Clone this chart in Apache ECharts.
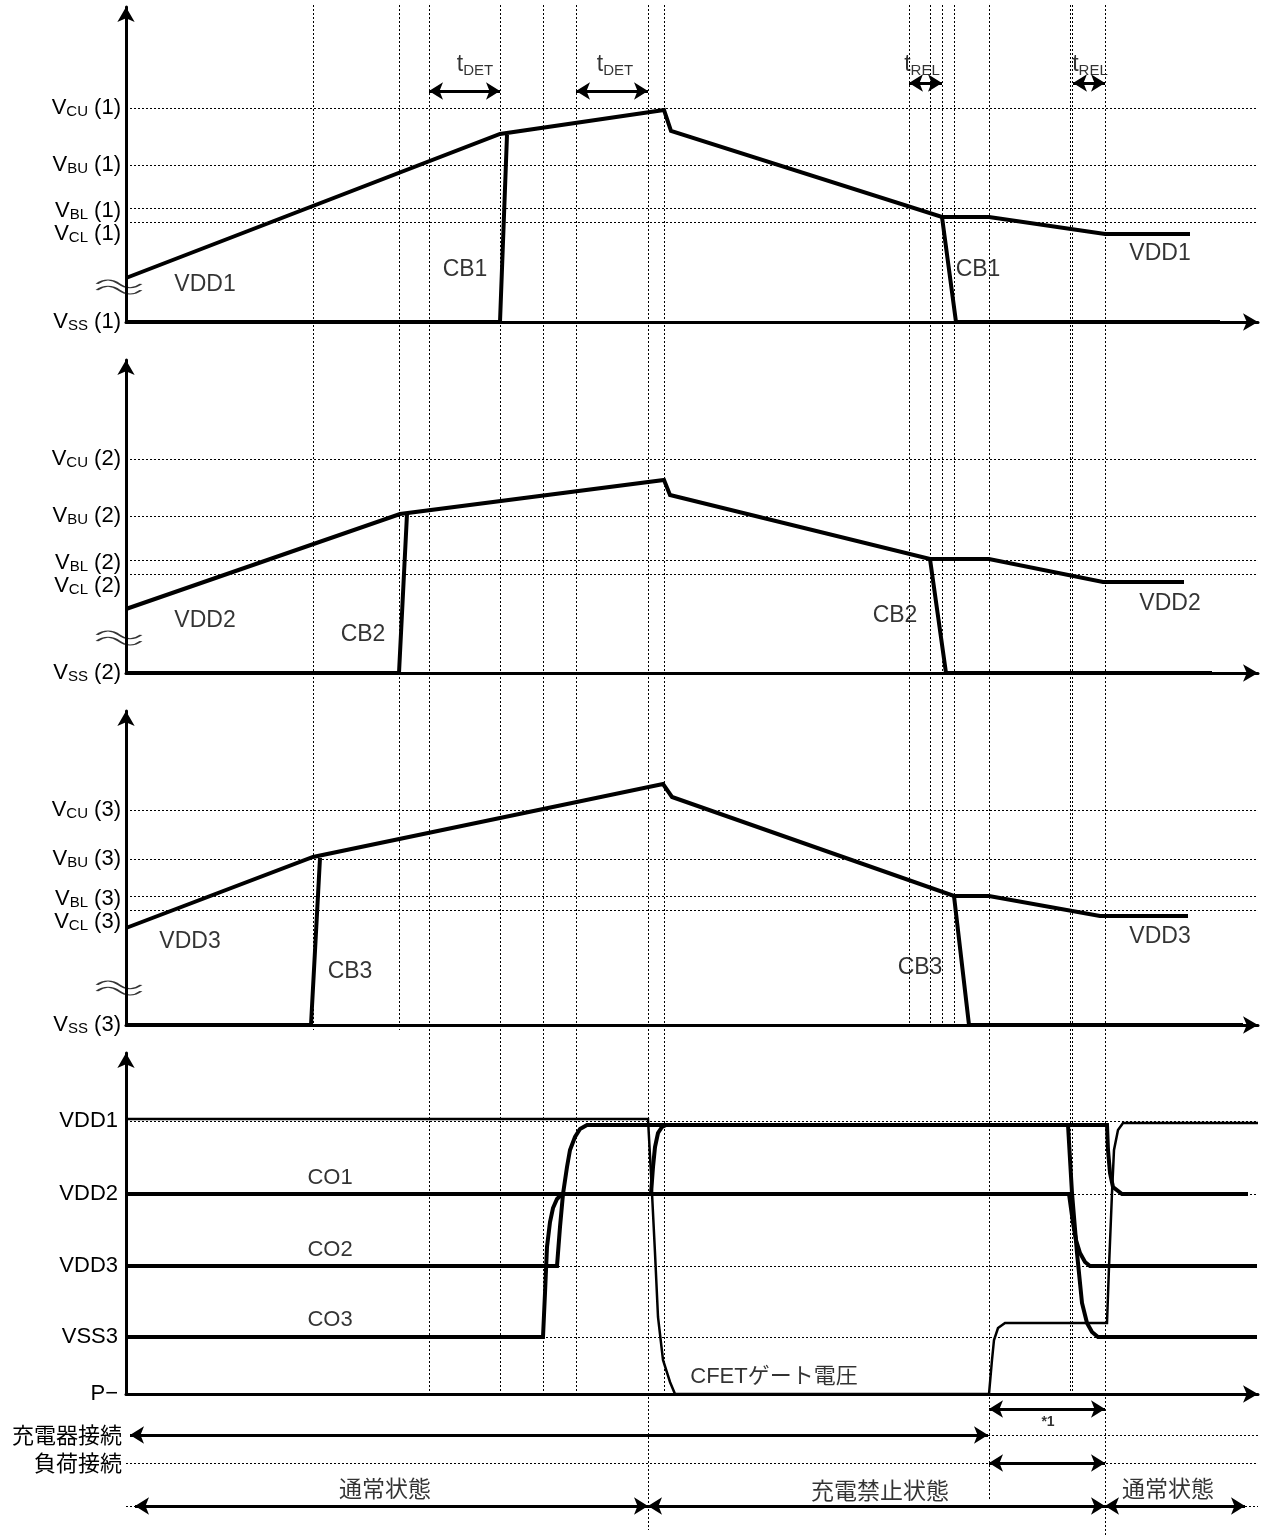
<!DOCTYPE html>
<html>
<head>
<meta charset="utf-8">
<script src="https://cdn.jsdelivr.net/npm/echarts@6/dist/echarts.min.js"></script>
<style>
  html, body { margin: 0; padding: 0; background: #fff; }
  #main { width: 1266px; height: 1535px; }
</style>
</head>
<body>
<div id="main"></div>
<script>
// time axis: 0 .. xMax (same for every panel)
var xMax = 1132;

// panel 1 : cell 1
var levels1 = [214, 157, 114, 100];
var vdd1 = [[0, 44], [374, 188], [538, 212], [545, 191], [816, 105], [863, 105], [979, 88], [1064, 88]];
var cb1Rise = [[0, 0], [374, 0], [381, 187]];
var cb1Fall = [[816, 105], [830, 0], [1094, 0]];
var p1Text = [[79, 37, 'VDD1'], [339, 52, 'CB1'], [852, 52, 'CB1'], [1034, 68, 'VDD1']];

// panel 2 : cell 2
var levels2 = [214, 157, 113, 99];
var vdd2 = [[0, 64], [274, 159], [538, 193], [544, 178], [804, 114], [863, 114], [977, 91], [1058, 91]];
var cb2Rise = [[0, 0], [273, 0], [281, 159]];
var cb2Fall = [[804, 114], [820, 0], [1086, 0]];
var p2Text = [[79, 52, 'VDD2'], [237, 38, 'CB2'], [769, 57, 'CB2'], [1044, 69, 'VDD2']];

// panel 3 : cell 3
var levels3 = [215, 166, 129, 115];
var vdd3 = [[0, 97], [187, 168], [537, 241], [546, 228], [828, 129], [863, 129], [974, 109], [1062, 109]];
var cb3Rise = [[0, 0], [185, 0], [194, 167]];
var cb3Fall = [[828, 129], [843, 0], [1117, 0]];
var p3Text = [[64, 83, 'VDD3'], [224, 53, 'CB3'], [794, 57, 'CB3'], [1034, 88, 'VDD3']];

var levelSubs = ['CU', 'BU', 'BL', 'CL'];

// panel 4 : outputs
var outLevels = [273, 200, 128, 57];
var outNames = ['VDD1', 'VDD2', 'VDD3', 'VSS3'];
var co1 = [[0, 200], [525, 200], [527, 227], [529, 247], [532, 261], [536, 267], [540, 269], [981, 269], [982, 244], [984, 221], [987, 207], [996, 200], [1122, 200]];
var co2 = [[0, 128], [431, 128], [434, 167], [437, 200], [441, 227], [444, 244], [449, 257], [454, 265], [461, 269], [942, 269], [946, 201], [951, 141], [956, 91], [961, 71], [966, 62], [972, 57], [1131, 57]];
var co3 = [[0, 57], [417, 57], [419, 101], [421, 147], [424, 172], [427, 186], [431, 195], [436, 200], [943, 200], [947, 171], [950, 154], [954, 141], [959, 132], [964, 128], [1131, 128]];
var cfet = [[0, 275], [522, 275], [526, 201], [529, 141], [532, 77], [537, 34], [544, 12], [549, 0], [863, 0], [866, 34], [868, 54], [872, 66], [879, 71], [981, 71], [983, 127], [986, 201], [988, 244], [992, 264], [997, 271], [1132, 271]];
var p4Text = [[204, 216, 'CO1'], [204, 144, 'CO2'], [204, 74, 'CO3'], [648, 17, 'CFETゲート電圧']];

// timing arrows in panel 1
var tDet = [[303, 374], [450, 522]];
var tRel = [[783, 816], [947, 979]];
var tLabels = [[349, 257, 'DET'], [489, 257, 'DET'], [796, 257, 'REL'], [964, 257, 'REL']];

// bottom rows (row value = distance below P- axis)
var starSpan = [863, 979];
var chargerSpan = [4, 862];
var loadSpan = [863, 979];
var stateSpans = [[9, 522], [522, 979], [979, 1119]];
var stateText = [[259, 93, '通常状態'], [754, 95, '充電禁止状態'], [1042, 93, '通常状態'], [922, 27, '*1']];
var rowLabels = ['充電器接続', '負荷接続'];
var rowValues = [40, 68];

// vertical event lines (time, lower end on page scale)
var guideTimes = [187, 273, 303, 374, 417, 450, 522, 538, 783, 804, 816, 828, 863, 944, 946, 979];
var guideEnds = [1030, 1030, 1394, 1394, 1394, 1394, 1530, 1394, 1025, 1025, 1025, 1025, 1500, 1394, 1394, 1535];

var FONT = '"Liberation Sans", Arial, "Noto Sans CJK JP", sans-serif';
var CJK = '"Noto Sans CJK JP", sans-serif';
var BLACK = '#000';
var DOT = {color: BLACK, type: [2, 2], width: 1};

var grids = [
    {top: 7, height: 315},
    {top: 360, height: 313},
    {top: 711, height: 314},
    {top: 1053, height: 341},
    {top: 1395, height: 140},
    {top: 0, height: 1535}
];
grids.forEach(function (g) { g.left = 126; g.right = 8; });

var xAxes = grids.map(function (g, i) {
    return {
        type: 'value', gridIndex: i, min: 0, max: xMax,
        axisLine: {show: i < 4, lineStyle: {color: BLACK, width: 3}, symbol: ['none', 'arrow'], symbolSize: [13, 15]},
        axisTick: {show: false}, axisLabel: {show: false}, splitLine: {show: false}
    };
});

var richV = {
    v: {fontSize: 22, fontFamily: FONT, color: BLACK, lineHeight: 23},
    s: {fontSize: 15, fontFamily: FONT, color: BLACK, lineHeight: 15, verticalAlign: 'bottom'}
};

function cellLabel(sub, n) {
    return '{v|V}{s|' + sub + '}{v| (' + n + ')}';
}

function cellAxis(idx, max, levels, n) {
    // V_BL and V_CL share one two-line label placed on the V_CL tick
    var ticks = [0, levels[0], levels[1], levels[3]];
    return {
        type: 'value', gridIndex: idx, min: 0, max: max,
        axisLine: {show: true, lineStyle: {color: BLACK, width: 3}, symbol: ['none', 'arrow'], symbolSize: [13, 15]},
        axisTick: {show: false}, splitLine: {show: false},
        axisLabel: {
            show: true, margin: 5, fontSize: 22, lineHeight: 23, fontFamily: FONT, color: BLACK,
            hideOverlap: false,
            customValues: ticks,
            formatter: function (val) {
                var k = levels.indexOf(val);
                if (k < 0) return cellLabel('SS', n);
                if (k === 3) return cellLabel('BL', n) + '\n' + cellLabel('CL', n);
                return cellLabel(levelSubs[k], n);
            },
            rich: richV
        }
    };
}

var yAxes = [
    cellAxis(0, 315, levels1, 1),
    cellAxis(1, 313, levels2, 2),
    cellAxis(2, 314, levels3, 3),
    {
        type: 'value', gridIndex: 3, min: 0, max: 341,
        axisLine: {show: true, lineStyle: {color: BLACK, width: 3}, symbol: ['none', 'arrow'], symbolSize: [13, 15]},
        axisTick: {show: false}, splitLine: {show: false},
        axisLabel: {
            margin: 8, fontSize: 22, fontFamily: FONT, color: BLACK, hideOverlap: false,
            customValues: [0].concat(outLevels),
            formatter: function (val) {
                var k = outLevels.indexOf(val);
                return k < 0 ? 'P\u2212' : outNames[k];
            }
        }
    },
    {
        type: 'value', gridIndex: 4, min: 0, max: 140, inverse: true,
        axisLine: {show: false}, axisTick: {show: false}, splitLine: {show: false},
        axisLabel: {
            margin: 4, fontSize: 22, fontFamily: CJK, color: BLACK, hideOverlap: false,
            customValues: rowValues,
            formatter: function (val) { return rowLabels[rowValues.indexOf(val)]; }
        }
    },
    {type: 'value', gridIndex: 5, min: 0, max: 1535, inverse: true, show: false}
];

function wave(idx, data, width) {
    return {
        type: 'line', xAxisIndex: idx, yAxisIndex: idx, data: data, symbol: 'none', z: 4,
        lineStyle: {color: BLACK, width: width || 4, join: 'miter'}
    };
}

function texts(idx, data, size, font) {
    return {
        type: 'scatter', xAxisIndex: idx, yAxisIndex: idx, data: data, symbolSize: 1, z: 5,
        itemStyle: {color: 'rgba(0,0,0,0)'},
        label: {
            show: true, position: 'inside', color: BLACK, fontSize: size || 23, fontFamily: font || FONT,
            formatter: function (p) { return p.data[2]; }
        }
    };
}

function arrowItem(a, b, v, w) {
    return [
        {coord: [a, v], symbol: 'arrow', symbolSize: [13, 14], lineStyle: {color: BLACK, type: 'solid', width: w || 3}},
        {coord: [b, v], symbol: 'arrow', symbolSize: [13, 14]}
    ];
}

function dotItem(a, b, v) {
    return [{coord: [a, v], lineStyle: DOT}, {coord: [b, v]}];
}

function levelLines(levels) {
    return {
        silent: true, symbol: ['none', 'none'], label: {show: false}, lineStyle: DOT,
        data: levels.map(function (v) { return {yAxis: v}; })
    };
}

// axis break mark
var breakPath = 'path://M0,4 C7,-1 15,-1 22,4 C29,9 37,9 44,4 M0,10 C7,5 15,5 22,10 C29,15 37,15 44,10';
function breakMark(idx, v) {
    return {
        type: 'scatter', xAxisIndex: idx, yAxisIndex: idx, data: [[0, v]], z: 6,
        symbol: breakPath, symbolSize: [44, 14], symbolOffset: [-7, 0],
        itemStyle: {color: 'rgba(0,0,0,0)', borderColor: BLACK, borderWidth: 1.8}
    };
}

function markArrows(items) {
    return {
        silent: true, symbol: ['none', 'none'], label: {show: false},
        lineStyle: {color: BLACK, width: 3, type: 'solid'},
        itemStyle: {color: BLACK},
        data: items
    };
}

var series = [];

// event guides
series.push({
    type: 'lines', coordinateSystem: 'cartesian2d', xAxisIndex: 5, yAxisIndex: 5, z: 1, silent: true,
    lineStyle: {color: BLACK, width: 1, type: [2, 2], opacity: 1},
    data: guideTimes.map(function (t, i) { return {coords: [[t, 5], [t, guideEnds[i]]]}; })
});

// panel 1
var s1 = wave(0, vdd1);
s1.markLine = levelLines(levels1);
series.push(s1, wave(0, cb1Rise), wave(0, cb1Fall), breakMark(0, 35));
var t1 = texts(0, p1Text);
var arrows1 = [];
tDet.forEach(function (d) { arrows1.push(arrowItem(d[0], d[1], 231)); });
tRel.forEach(function (d) { arrows1.push(arrowItem(d[0], d[1], 239)); });
t1.markLine = markArrows(arrows1);
series.push(t1);
var tl = texts(0, tLabels);
tl.label.formatter = function (p) { return '{a|t}{b|' + p.data[2] + '}'; };
tl.label.rich = {
    a: {fontSize: 23, fontFamily: FONT, color: BLACK, lineHeight: 26},
    b: {fontSize: 15, fontFamily: FONT, color: BLACK, lineHeight: 15, verticalAlign: 'bottom'}
};
series.push(tl);

// panel 2
var s2 = wave(1, vdd2);
s2.markLine = levelLines(levels2);
series.push(s2, wave(1, cb2Rise), wave(1, cb2Fall), breakMark(1, 35), texts(1, p2Text));

// panel 3
var s3 = wave(2, vdd3);
s3.markLine = levelLines(levels3);
series.push(s3, wave(2, cb3Rise), wave(2, cb3Fall), breakMark(2, 37), texts(2, p3Text));

// panel 4
var c1 = wave(3, co1);
c1.markLine = levelLines(outLevels);
series.push(c1, wave(3, co2), wave(3, co3), wave(3, cfet, 2.5), texts(3, p4Text, 22));

// bottom rows
var tb = texts(4, stateText, 23, CJK);
tb.label.rich = {n: {fontSize: 14, fontWeight: 'bold', fontFamily: FONT, color: BLACK}};
tb.label.formatter = function (p) { return p.data[2] === '*1' ? '{n|*1}' : p.data[2]; };
var rows = [
    arrowItem(starSpan[0], starSpan[1], 14),
    arrowItem(chargerSpan[0], chargerSpan[1], 40),
    dotItem(chargerSpan[1], xMax, 40),
    dotItem(0, xMax, 68),
    arrowItem(loadSpan[0], loadSpan[1], 68),
    dotItem(0, stateSpans[0][0], 111),
    dotItem(stateSpans[2][1], xMax, 111)
];
stateSpans.forEach(function (d) { rows.push(arrowItem(d[0], d[1], 111)); });
tb.markLine = markArrows(rows);
series.push(tb);

var myChart = echarts.init(document.getElementById('main'));
myChart.setOption({
    animation: false,
    backgroundColor: '#fff',
    grid: grids,
    xAxis: xAxes,
    yAxis: yAxes,
    series: series
});
</script>
</body>
</html>
